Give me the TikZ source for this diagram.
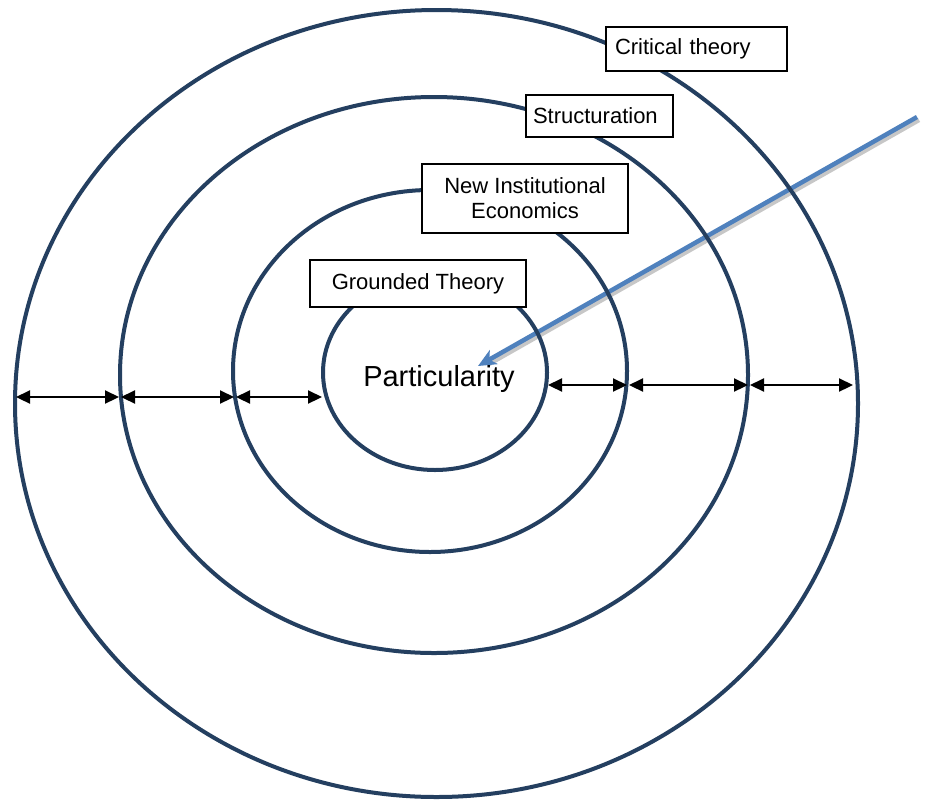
\documentclass[tikz,border=0pt]{standalone}
\usepackage{fontspec}
\setmainfont{Liberation Sans}
\usetikzlibrary{arrows.meta}
\definecolor{ring}{HTML}{243F60}
\definecolor{pointer}{HTML}{4F81BD}
\begin{document}
\begin{tikzpicture}[x=1pt,y=-1pt,
  ringline/.style={draw=ring, line width=4pt},
  labelbox/.style={draw=black, fill=white, line width=1.8pt, inner sep=0pt,
    font=\fontsize{22}{25}\selectfont},
  span/.style={draw=black, line width=2.2pt,
    {Triangle[length=14pt,width=13pt]}-{Triangle[length=14pt,width=13pt]}, shorten <=1pt, shorten >=1pt},
  pointerline/.style={draw=pointer, line width=4.5pt, -{Stealth[length=18pt,width=16pt,inset=5pt]}}
]
\useasboundingbox (0,0) rectangle (925,801);
\fill[white] (0,0) rectangle (925,801);

% pointer toward the centre, with a soft drop shadow
\coordinate (ptail) at (917,117);
\coordinate (phead) at (478,366);
\coordinate (stail) at (919,120);
\coordinate (shead) at (489,364);
\draw[line width=4.5pt, black!22] (stail) -- (shead);
\draw[pointerline] (ptail) -- (phead);

% concentric rings
\draw[ringline] (436.5,403.5) ellipse [x radius=421.5, y radius=393.5];
\draw[ringline] (434,375) ellipse [x radius=314, y radius=278];
\draw[ringline] (430,371) ellipse [x radius=197, y radius=181];
\draw[ringline] (435,372.5) ellipse [x radius=112, y radius=97.5];

% span markers between rings
\coordinate (l0) at (15,397);
\coordinate (l1) at (120,397);
\coordinate (l2) at (235,397);
\coordinate (l3) at (323,397);
\coordinate (r0) at (547,385);
\coordinate (r1) at (628,385);
\coordinate (r2) at (749,385);
\coordinate (r3) at (854,385);
\draw[span] (l0) -- (l1);
\draw[span] (l1) -- (l2);
\draw[span] (l2) -- (l3);
\draw[span] (r0) -- (r1);
\draw[span] (r1) -- (r2);
\draw[span] (r2) -- (r3);

% centre label
\node (centre) at (439,379) {\fontsize{29}{32}\selectfont Particularity};

% ring labels
\node[labelbox, minimum width=181pt, minimum height=44pt, text width=163pt,
  inner xsep=9pt, align=left] (critical) at (696.5,49) {Critical theory};
\node[labelbox, minimum width=147pt, minimum height=42pt, text width=133pt,
  inner xsep=7pt, align=left] (struct) at (599.5,116) {Structuration};
\node[labelbox, minimum width=206pt, minimum height=69pt, align=center]
  (nie) at (525,198.5) {New Institutional\\Economics};
\node[labelbox, minimum width=216pt, minimum height=47pt, align=center]
  (grounded) at (418,283.5) {Grounded Theory};
\end{tikzpicture}
\end{document}
